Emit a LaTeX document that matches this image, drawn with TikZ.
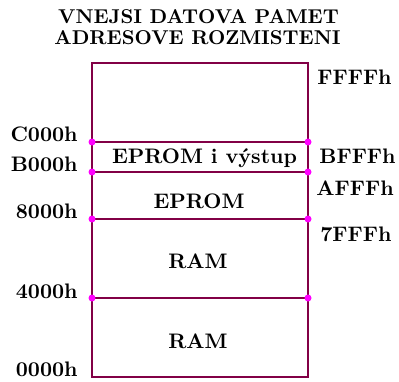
\documentclass[tikz,border=0pt]{standalone}
\usepackage{tikz}
\usepackage{xcolor}
\usetikzlibrary{positioning}
\definecolor{mmline}{RGB}{130,0,70}
\definecolor{mmpink}{RGB}{255,0,255}
\tikzset{
  mmframe/.style={draw=mmline, line width=1pt},
  mmdiv/.style={draw=mmline, line width=0.9pt},
  mmdot/.style={circle, fill=mmpink, inner sep=0pt, minimum size=3.5pt},
  mmfont/.style={font=\bfseries\fontsize{10.5}{12}\selectfont},
  mmaddrl/.style={mmfont, anchor=base east, inner sep=0pt},
  mmaddrr/.style={mmfont, anchor=north west, inner sep=0pt},
  mmarea/.style={mmfont, anchor=base, inner sep=0pt},
  mmtitle/.style={anchor=base, inner sep=0pt, font=\bfseries}
}

\begin{document}
\begin{tikzpicture}[x=0.5pt, y=-0.5pt]
  \useasboundingbox (0,0) rectangle (399,381);
  % title
  \node[mmtitle] (title1) at (198.5,23) {VNEJSI DATOVA PAMET};
  \node[mmtitle] (title2) at (197.5,44) {ADRESOVE ROZMISTENI};
  % frame corners and divider ends
  \coordinate (frameNW) at (92,63);
  \coordinate (frameNE) at (308,63);
  \coordinate (frameSW) at (92,377);
  \coordinate (frameSE) at (308,377);
  \foreach \nm/\yy in {1/142, 2/172, 3/219, 4/298} {
    \coordinate (div\nm W) at (92,\yy);
    \coordinate (div\nm E) at (308,\yy);
  }
  \draw[mmframe] (frameNW) -- (frameNE) -- (frameSE) -- (frameSW) -- cycle;
  \foreach \nm in {1,...,4} {
    \draw[mmdiv] (div\nm W) -- (div\nm E);
    \node[mmdot] at (div\nm W) {};
    \node[mmdot] at (div\nm E) {};
  }
  % areas
  \node[mmarea] (io) at (204.5,163) {EPROM i výstup};
  \node[mmarea] (eprom) at (199,208) {EPROM};
  \node[mmarea] (ramhi) at (198,268) {RAM};
  \node[mmarea] (ramlo) at (198,348) {RAM};
  % start addresses
  \node[mmaddrl] (ac000) at (78,141) {C000h};
  \node[mmaddrl] (ab000) at (78,171) {B000h};
  \node[mmaddrl] (a8000) at (78,218) {8000h};
  \node[mmaddrl] (a4000) at (78,298) {4000h};
  \node[mmaddrl] (a0000) at (78,376) {0000h};
  % end addresses
  \node[mmaddrr] (affff) at (317,70) {FFFFh};
  \node[mmaddrr] (abfff) at (319,149) {BFFFh};
  \node[mmaddrr] (aafff) at (316,180) {AFFFh};
  \node[mmaddrr] (a7fff) at (320,227) {7FFFh};
\end{tikzpicture}
\end{document}
